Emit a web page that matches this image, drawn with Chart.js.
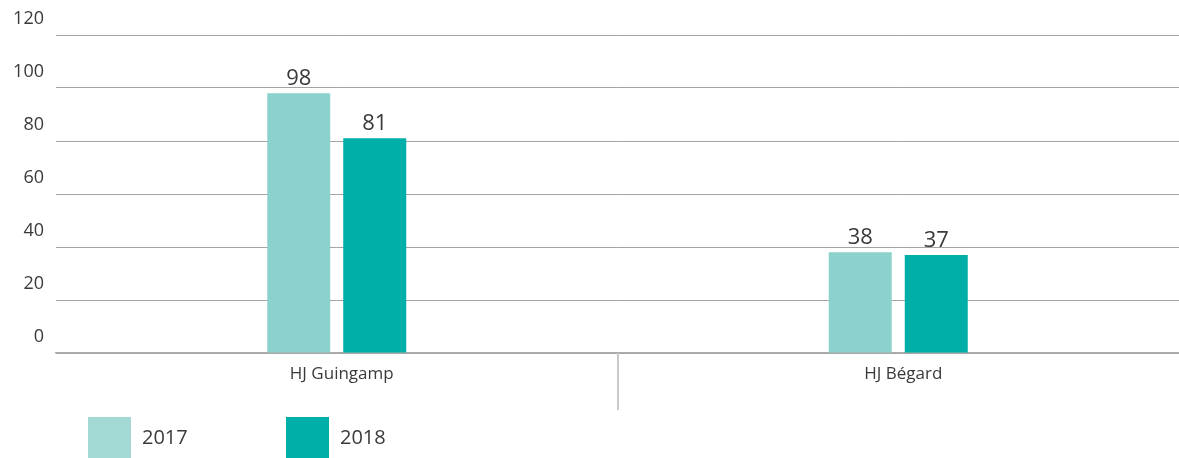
<!DOCTYPE html>
<html>
<head>
<meta charset="utf-8">
<script src="https://cdn.jsdelivr.net/npm/chart.js@4/dist/chart.umd.min.js"></script>
<style>
  html, body { margin: 0; padding: 0; background: #ffffff; }
  #wrap { width: 1179px; height: 458px; }
</style>
</head>
<body>
<div id="wrap"><canvas id="c" width="1179" height="458"></canvas></div>
<script>
// Sites and yearly values
const sites = ['HJ Guingamp', 'HJ Bégard'];
const seriesNames = ['2017', '2018'];
const values2017 = [98, 38];
const values2018 = [81, 37];
const yTicks = [0, 20, 40, 60, 80, 100, 120];

const FONT = '"Open Sans", "DejaVu Sans", sans-serif';
const TEXT = '#3a3a3a';
const barColors = ['#8bd2cd', '#00afa8'];
const legendColors = ['#a2d9d5', '#00b0a8'];

// Value printed above each bar
const valueLabels = {
  id: 'valueLabels',
  afterDatasetsDraw(chart) {
    const ctx = chart.ctx;
    ctx.save();
    ctx.font = '22px ' + FONT;
    ctx.fillStyle = TEXT;
    ctx.textAlign = 'center';
    ctx.textBaseline = 'alphabetic';
    chart.data.datasets.forEach((ds, i) => {
      chart.getDatasetMeta(i).data.forEach((bar, j) => {
        ctx.fillText(String(ds.data[j]), bar.x, bar.y - 8);
      });
    });
    ctx.restore();
  }
};

// Vertical separators between categories, hanging below the axis
const categoryDivider = {
  id: 'categoryDivider',
  afterDraw(chart) {
    const xs = chart.scales.x;
    const ctx = chart.ctx;
    ctx.save();
    ctx.strokeStyle = '#c9c9c9';
    ctx.lineWidth = 2;
    for (let k = 0; k < sites.length - 1; k++) {
      const px = Math.round(xs.getPixelForValue(k + 0.5));
      ctx.beginPath();
      ctx.moveTo(px, xs.top);
      ctx.lineTo(px, xs.top + 57);
      ctx.stroke();
    }
    ctx.restore();
  }
};

// Legend row at the bottom left
const bottomLegend = {
  id: 'bottomLegend',
  afterDraw(chart) {
    const ctx = chart.ctx;
    ctx.save();
    ctx.font = '20px ' + FONT;
    ctx.textAlign = 'left';
    ctx.textBaseline = 'middle';
    chart.data.datasets.forEach((ds, i) => {
      const x = 88 + i * 198;
      const y = 417;
      ctx.fillStyle = legendColors[i];
      ctx.fillRect(x, y, 43, 43);
      ctx.fillStyle = TEXT;
      ctx.fillText(ds.label, x + 54, y + 21);
    });
    ctx.restore();
  }
};

new Chart(document.getElementById('c'), {
  type: 'bar',
  data: {
    labels: sites,
    datasets: [
      { label: seriesNames[0], data: values2017, backgroundColor: barColors[0] },
      { label: seriesNames[1], data: values2018, backgroundColor: barColors[1] }
    ]
  },
  options: {
    responsive: false,
    animation: false,
    categoryPercentage: 0.2707,
    barPercentage: 0.829,
    layout: { padding: { top: 35, left: 0, right: 0, bottom: 0 } },
    plugins: {
      legend: { display: false },
      tooltip: { enabled: false }
    },
    scales: {
      x: {
        offset: true,
        grid: { display: false, drawTicks: false },
        border: { display: true, color: '#ababab', width: 1.5 },
        ticks: { color: TEXT, font: { family: FONT, size: 17 }, padding: 11, labelOffset: 5 },
        afterFit(s) { s.height = 105; }
      },
      y: {
        min: yTicks[0],
        max: yTicks[yTicks.length - 1],
        ticks: {
          stepSize: yTicks[1] - yTicks[0],
          color: TEXT,
          font: { family: FONT, size: 18 },
          padding: 12,
          labelOffset: -16
        },
        grid: { color: '#a3a3a3', lineWidth: 1, drawTicks: false },
        border: { display: false },
        afterFit(s) { s.width = 56; }
      }
    }
  },
  plugins: [valueLabels, categoryDivider, bottomLegend]
});
</script>
</body>
</html>
